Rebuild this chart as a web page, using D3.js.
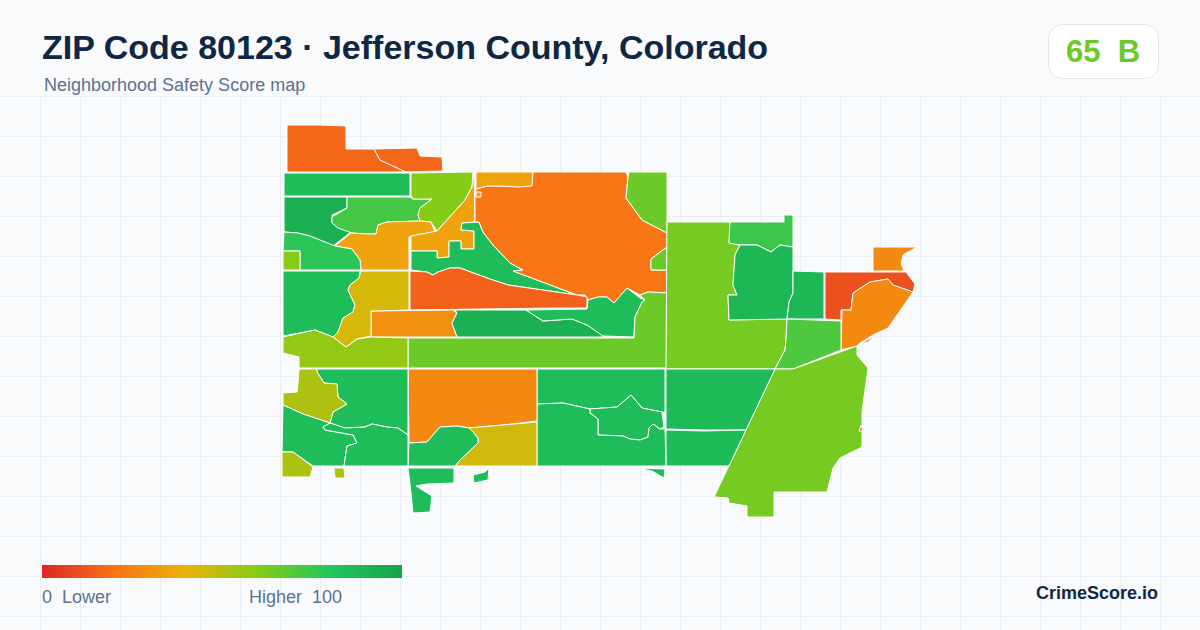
<!DOCTYPE html>
<html><head><meta charset="utf-8">
<style>html,body{margin:0;padding:0;background:#f8fafc}svg{display:block}text{font-family:"Liberation Sans",Arial,sans-serif;white-space:pre}</style>
<script src="https://cdn.jsdelivr.net/npm/d3@7/dist/d3.min.js"></script>
</head><body><svg id="c" width="1200" height="630"></svg>
<script>
const titleText = "ZIP Code 80123 · Jefferson County, Colorado";
const subtitleText = "Neighborhood Safety Score map";
const overallScore = 65;
const overallGrade = "B";
const brandText = "CrimeScore.io";
const legendLow = "0  Lower";
const legendHigh = "Higher  100";
const colorDomain = [0, 20, 40, 60, 80, 100];
const colorRange = ["#dc2626", "#f97316", "#eab308", "#84cc16", "#22c55e", "#16a34a"];

const zoneScores = [
  17, 17, 85, 92, 73, 60, 35, 35, 85, 21, 35, 65, 65, 15, 29, 92, 85, 65, 63, 75,
  88, 88, 11, 27, 71, 63, 27, 86, 86, 85, 85, 85, 85, 27, 45, 85, 85, 85,
  85, 52, 85, 85, 52, 52, 78, 60, 85, 44, 57, 35, 11, 20
];
const zoneRings = [
  [[287,125],[319,125],[346,126],[346,149],[374,149],[380,160],[406,172],[287,172]],
  [[374,149],[417,148],[420,156],[442,157],[443,171],[406,172],[380,160]],
  [[284,173],[410,173],[410,196],[284,196]],
  [[284,197],[347,197],[347,208],[332,215],[332,223],[351,232],[333,246],[310,236],[298,233],[284,232]],
  [[347,197],[410,197],[413,199],[432,199],[420,208],[418,215],[420,221],[387,222],[378,225],[376,234],[367,234],[352,233],[338,228],[332,223],[332,217],[347,208]],
  [[411,173],[473,172],[472,187],[465,200],[437,231],[431,222],[420,221],[418,215],[420,208],[432,199],[413,199],[411,196]],
  [[335,246],[351,233],[367,234],[376,234],[378,225],[387,222],[420,221],[431,222],[435,232],[412,236],[409,237],[409,270],[361,270],[360,260],[352,249]],
  [[411,236],[437,231],[465,200],[472,187],[474,172],[475,222],[462,223],[461,230],[474,231],[474,249],[461,249],[461,241],[449,241],[449,257],[437,258],[437,251],[411,251]],
  [[411,251],[437,251],[437,258],[449,257],[449,241],[461,241],[461,249],[474,249],[474,231],[461,230],[462,223],[479,222],[483,232],[493,245],[510,263],[523,270],[513,271],[577,295],[508,285],[487,278],[460,268],[450,268],[438,272],[433,275],[427,272],[411,270]],
  [[533,172],[626,172],[628,177],[626,198],[642,220],[667,233],[667,247],[651,259],[651,270],[667,270],[667,293],[648,292],[640,295],[627,288],[614,303],[607,297],[598,297],[588,300],[585,295],[577,295],[513,271],[523,270],[510,263],[493,245],[483,232],[479,222],[475,222],[475,198],[476,189],[487,186],[530,186]],
  [[476,172],[533,172],[532,186],[520,187],[497,186],[487,186],[476,189]],
  [[629,172],[667,172],[667,233],[642,220],[626,198],[628,177]],
  [[667,247],[667,270],[651,270],[651,259]],
  [[410,271],[427,272],[433,275],[438,272],[450,268],[460,268],[487,278],[508,285],[577,295],[587,297],[587,308],[553,308],[410,310]],
  [[371,311],[453,310],[457,313],[452,323],[457,337],[371,337]],
  [[455,310],[526,310],[543,321],[572,319],[587,325],[603,335],[603,337],[457,337],[452,323],[457,313]],
  [[526,310],[587,309],[588,300],[598,297],[607,297],[614,303],[627,288],[640,298],[645,300],[642,302],[635,317],[634,337],[603,336],[587,325],[572,319],[543,321]],
  [[408,338],[634,338],[635,317],[642,302],[645,300],[640,295],[648,292],[667,293],[667,368],[408,368]],
  [[667,222],[730,222],[729,243],[740,245],[735,255],[733,285],[737,295],[728,295],[729,320],[787,319],[786,340],[785,350],[775,369],[666,369]],
  [[730,222],[784,222],[784,215],[793,215],[793,247],[780,245],[771,252],[757,245],[745,245],[740,245],[729,243]],
  [[745,245],[757,245],[771,252],[780,245],[793,247],[793,293],[789,302],[787,319],[729,320],[728,295],[737,295],[733,285],[735,255],[740,245]],
  [[793,271],[824,272],[824,319],[787,319],[789,302],[793,293]],
  [[825,272],[906,272],[915,284],[913,292],[893,285],[888,279],[870,282],[853,293],[851,310],[841,310],[841,320],[825,319]],
  [[842,310],[851,310],[853,293],[870,282],[888,279],[893,285],[913,292],[888,328],[873,335],[860,343],[857,346],[841,350]],
  [[787,319],[841,321],[841,350],[793,369],[775,369],[785,350],[786,340]],
  [[793,369],[857,346],[857,355],[868,368],[862,412],[862,447],[840,458],[833,468],[827,492],[774,492],[774,517],[747,517],[747,506],[729,503],[728,498],[714,497],[775,369]],
  [[873,247],[917,247],[903,255],[901,263],[904,271],[873,271]],
  [[666,369],[775,369],[746,430],[704,430],[666,429]],
  [[666,430],[704,431],[746,430],[729,466],[666,466]],
  [[537,369],[665,369],[665,412],[662,412],[642,408],[631,395],[617,407],[590,409],[563,403],[537,404]],
  [[590,409],[617,407],[631,395],[642,408],[662,412],[664,427],[660,429],[653,424],[649,428],[648,437],[640,440],[630,439],[623,436],[598,435],[598,419],[590,413]],
  [[537,404],[563,403],[590,409],[590,413],[598,419],[598,435],[623,436],[630,439],[640,440],[648,437],[649,428],[653,424],[660,429],[665,429],[666,466],[537,466]],
  [[637,468],[665,469],[664,478],[652,471]],
  [[408,369],[537,369],[537,421],[503,425],[469,428],[457,426],[440,427],[433,435],[427,442],[409,443]],
  [[537,422],[537,466],[455,466],[460,460],[478,443],[478,438],[473,432],[469,428],[503,425]],
  [[409,443],[427,442],[433,435],[440,427],[457,426],[469,428],[473,432],[478,438],[478,443],[460,460],[455,466],[408,466]],
  [[408,468],[454,468],[454,483],[427,484],[416,486],[432,496],[430,512],[413,513],[411,493]],
  [[473,475],[485,472],[489,468],[488,480],[474,483]],
  [[317,369],[408,369],[408,435],[398,428],[387,427],[372,424],[365,427],[345,428],[330,423],[333,412],[347,404],[338,397],[337,384],[324,383],[317,372]],
  [[299,369],[317,369],[317,372],[324,383],[337,384],[338,397],[347,404],[333,412],[330,423],[303,414],[283,405],[283,393],[297,392],[298,383]],
  [[283,405],[303,414],[330,423],[323,427],[325,430],[353,435],[357,443],[347,446],[344,466],[313,466],[300,457],[293,452],[282,452]],
  [[330,423],[345,428],[365,427],[372,424],[387,427],[398,428],[408,435],[408,466],[344,466],[347,446],[357,443],[353,435],[325,430],[323,427]],
  [[282,452],[293,452],[300,457],[313,467],[310,477],[282,477]],
  [[334,468],[344,468],[345,478],[335,478]],
  [[284,232],[298,233],[310,236],[335,246],[352,249],[360,260],[361,270],[300,270],[300,251],[283,251]],
  [[283,251],[300,251],[300,270],[283,270]],
  [[283,271],[360,271],[359,278],[350,285],[348,290],[355,305],[353,312],[343,318],[338,332],[333,337],[315,330],[283,336]],
  [[361,271],[409,271],[409,310],[371,311],[371,336],[357,339],[346,347],[333,337],[338,332],[343,318],[353,312],[355,305],[348,290],[350,285],[359,278]],
  [[283,337],[315,330],[333,337],[346,347],[357,339],[371,337],[408,338],[408,368],[299,368],[299,357],[283,353]],
  [[476,192],[481,192],[481,197],[476,197]],
  [[860,344],[875,336],[868,342]],
  [[859,431],[863,431],[861,425]]
];

const W = 1200, H = 630;
const svg = d3.select("#c");
const color = d3.scaleLinear().domain(colorDomain).range(colorRange).clamp(true);
const mapX = d3.scaleLinear().domain([282, 917]).range([282, 917]);
const mapY = d3.scaleLinear().domain([125, 517]).range([125, 517]);
const ringPath = d3.line().x(d => mapX(d[0])).y(d => mapY(d[1])).curve(d3.curveLinearClosed);

svg.append("rect").attr("width", W).attr("height", H).attr("fill", "#f8fafc");
const gridColor = "#e9eef5";
const grid = svg.append("g").attr("stroke", gridColor).attr("stroke-width", 1);
grid.selectAll("line.v").data(d3.range(40, W, 40)).join("line").attr("class", "v")
  .attr("x1", d => d + .5).attr("x2", d => d + .5).attr("y1", 97).attr("y2", H);
grid.selectAll("line.h").data(d3.range(97, H, 40)).join("line").attr("class", "h")
  .attr("x1", 0).attr("x2", W).attr("y1", d => d - .5).attr("y2", d => d - .5);

svg.append("g").selectAll("path").data(zoneRings).join("path")
  .attr("d", ringPath)
  .attr("fill", (d, i) => color(zoneScores[i]))
  .attr("stroke", "#ffffff").attr("stroke-width", 1).attr("stroke-linejoin", "round");

svg.append("text").attr("x", 42).attr("y", 59).attr("font-size", 34).attr("font-weight", 700)
  .attr("fill", "#0f2744").text(titleText);
svg.append("text").attr("x", 44).attr("y", 91).attr("font-size", 18).attr("fill", "#5b7290").text(subtitleText);

svg.append("rect").attr("x", 1048.5).attr("y", 24.5).attr("width", 110).attr("height", 54).attr("rx", 14)
  .attr("fill", "#ffffff").attr("stroke", "#e2e8f0");
svg.append("text").attr("x", 1103).attr("y", 62).attr("text-anchor", "middle").attr("font-size", 31).attr("font-weight", 700)
  .attr("fill", color(overallScore)).text(overallScore + "  " + overallGrade);

const lg = svg.append("defs").append("linearGradient").attr("id", "lg");
lg.selectAll("stop").data(colorDomain).join("stop")
  .attr("offset", d => d + "%").attr("stop-color", d => color(d));
svg.append("rect").attr("x", 42).attr("y", 565).attr("width", 360).attr("height", 13).attr("fill", "url(#lg)");
svg.append("text").attr("x", 42).attr("y", 603).attr("font-size", 18).attr("fill", "#5b7290").text(legendLow);
svg.append("text").attr("x", 249).attr("y", 603).attr("font-size", 18).attr("fill", "#5b7290").text(legendHigh);
svg.append("text").attr("x", 1158).attr("y", 599).attr("text-anchor", "end").attr("font-size", 18).attr("font-weight", 700)
  .attr("fill", "#0f2744").text(brandText);
</script></body></html>
